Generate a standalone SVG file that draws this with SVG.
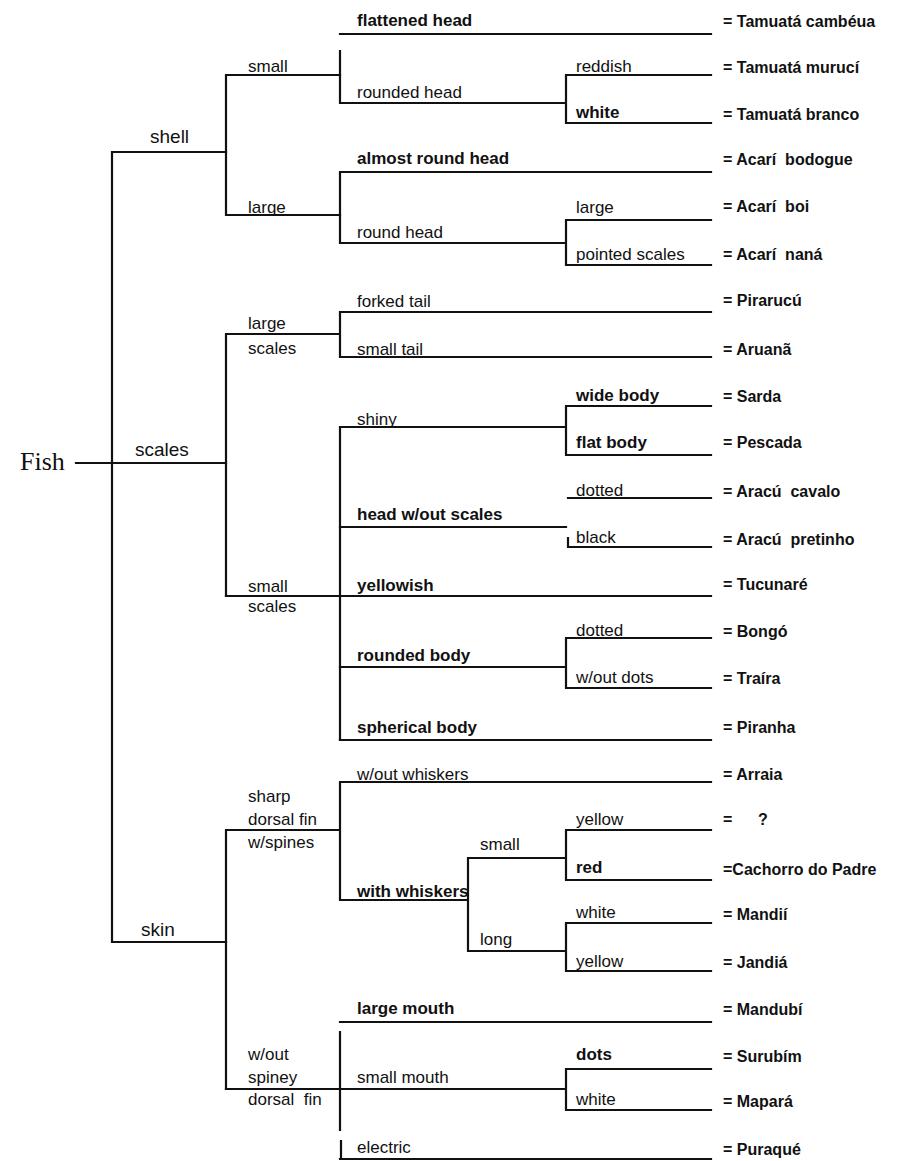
<svg xmlns="http://www.w3.org/2000/svg" width="899" height="1161" viewBox="0 0 899 1161">
<style>
text{font-family:"Liberation Sans",Arial,sans-serif;font-size:17px;fill:#111;white-space:pre}
.b{font-weight:bold}
.l1{font-size:19px}
.res{font-weight:bold;font-size:16px}
.root{font-family:"Liberation Serif","Times New Roman",serif;font-size:26px}
.c path{fill:none;stroke:#111;stroke-width:2.2;stroke-linecap:square}
</style>
<rect width="899" height="1161" fill="#fff"/>
<g class="c" id="connectors">
<path d="M76,463 H226 M112,152 V942 M112,152 H226 M112,942 H226"/>
<path d="M226,75 V215 M226,75 H340 M226,215 H340"/>
<path d="M340,34 H711 M340,51 V103 M340,103 H566 M566,75 V123 M566,75 H711 M566,123 H711"/>
<path d="M340,172 V243 M340,172 H711 M340,243 H566 M566,220 V265 M566,220 H711 M566,265 H711"/>
<path d="M226,334 V596 M226,334 H340 M340,312 V357 M340,312 H711 M340,357 H711"/>
<path d="M226,596 H340 M340,427 V740 M340,427 H566 M566,406 V455 M566,406 H711 M566,455 H711"/>
<path d="M340,527 H566 M568,498 H711 M568,547 H711 M568,538 V547"/>
<path d="M340,596 H711 M340,667 H566 M566,638 V688 M566,638 H711 M566,688 H711 M340,740 H711"/>
<path d="M226,830 V1089 M226,830 H340 M340,782 V900 M340,782 H711 M340,900 H468 M468,858 V951 M468,858 H566 M566,830 V880 M566,830 H711 M566,880 H711 M468,951 H566 M566,923 V971 M566,923 H711 M566,971 H711"/>
<path d="M226,1089 H340 M340,1022 H711 M340,1032 V1130 M340,1089 H566 M566,1069 V1110 M566,1069 H711 M566,1110 H711 M341,1141 V1159 M340,1159 H711"/>
</g>
<g id="fish"><text class="root" x="20" y="470">Fish</text></g>
<g id="shell"><text class="l1" x="150" y="143">shell</text></g>
<g id="scales"><text class="l1" x="135" y="456">scales</text></g>
<g id="skin"><text class="l1" x="141" y="936">skin</text></g>
<g id="shell-small"><text x="248" y="72">small</text></g>
<g id="shell-large"><text x="248" y="213">large</text></g>
<g id="large-scales"><text x="248" y="329">large</text><text x="248" y="354">scales</text></g>
<g id="small-scales"><text x="248" y="592">small</text><text x="248" y="612">scales</text></g>
<g id="sharp-dorsal"><text x="248" y="802">sharp</text><text x="248" y="825">dorsal fin</text><text x="248" y="848">w/spines</text></g>
<g id="wout-spiney"><text x="248" y="1060">w/out</text><text x="248" y="1083">spiney</text><text x="248" y="1105">dorsal  fin</text></g>
<g id="flattened-head"><text class="b" x="357" y="26">flattened head</text><text class="res" x="723" y="27">= Tamuatá cambéua</text></g>
<g id="rounded-head"><text x="357" y="98">rounded head</text></g>
<g id="reddish"><text x="576" y="72">reddish</text><text class="res" x="723" y="73">= Tamuatá murucí</text></g>
<g id="white1"><text class="b" x="576" y="118">white</text><text class="res" x="723" y="120">= Tamuatá branco</text></g>
<g id="almost-round-head"><text class="b" x="357" y="164">almost round head</text><text class="res" x="723" y="165">= Acarí  bodogue</text></g>
<g id="round-head"><text x="357" y="238">round head</text></g>
<g id="large2"><text x="576" y="213">large</text><text class="res" x="723" y="212">= Acarí  boi</text></g>
<g id="pointed-scales"><text x="576" y="260">pointed scales</text><text class="res" x="723" y="260">= Acarí  naná</text></g>
<g id="forked-tail"><text x="357" y="307">forked tail</text><text class="res" x="723" y="306">= Pirarucú</text></g>
<g id="small-tail"><text x="357" y="355">small tail</text><text class="res" x="723" y="355">= Aruanã</text></g>
<g id="shiny"><text x="357" y="425">shiny</text></g>
<g id="wide-body"><text class="b" x="576" y="401">wide body</text><text class="res" x="723" y="402">= Sarda</text></g>
<g id="flat-body"><text class="b" x="576" y="448">flat body</text><text class="res" x="723" y="448">= Pescada</text></g>
<g id="head-wout-scales"><text class="b" x="357" y="520">head w/out scales</text></g>
<g id="dotted1"><text x="576" y="496">dotted</text><text class="res" x="723" y="497">= Aracú  cavalo</text></g>
<g id="black"><text x="576" y="543">black</text><text class="res" x="723" y="545">= Aracú  pretinho</text></g>
<g id="yellowish"><text class="b" x="357" y="591">yellowish</text><text class="res" x="723" y="590">= Tucunaré</text></g>
<g id="rounded-body"><text class="b" x="357" y="661">rounded body</text></g>
<g id="dotted2"><text x="576" y="636">dotted</text><text class="res" x="723" y="637">= Bongó</text></g>
<g id="wout-dots"><text x="576" y="683">w/out dots</text><text class="res" x="723" y="684">= Traíra</text></g>
<g id="spherical-body"><text class="b" x="357" y="733">spherical body</text><text class="res" x="723" y="733">= Piranha</text></g>
<g id="wout-whiskers"><text x="357" y="780">w/out whiskers</text><text class="res" x="723" y="780">= Arraia</text></g>
<g id="with-whiskers"><text class="b" x="357" y="897">with whiskers</text></g>
<g id="small3"><text x="480" y="850">small</text></g>
<g id="long"><text x="480" y="945">long</text></g>
<g id="yellow1"><text x="576" y="825">yellow</text><text class="res" x="723" y="825">=</text><text class="res" x="758" y="825">?</text></g>
<g id="red"><text class="b" x="576" y="873">red</text><text class="res" x="723" y="875">=Cachorro do Padre</text></g>
<g id="white2"><text x="576" y="918">white</text><text class="res" x="723" y="920">= Mandií</text></g>
<g id="yellow2"><text x="576" y="967">yellow</text><text class="res" x="723" y="968">= Jandiá</text></g>
<g id="large-mouth"><text class="b" x="357" y="1014">large mouth</text><text class="res" x="723" y="1015">= Mandubí</text></g>
<g id="small-mouth"><text x="357" y="1083">small mouth</text></g>
<g id="dots"><text class="b" x="576" y="1060">dots</text><text class="res" x="723" y="1062">= Surubím</text></g>
<g id="white3"><text x="576" y="1105">white</text><text class="res" x="723" y="1107">= Mapará</text></g>
<g id="electric"><text x="357" y="1153">electric</text><text class="res" x="723" y="1155">= Puraqué</text></g>
</svg>
